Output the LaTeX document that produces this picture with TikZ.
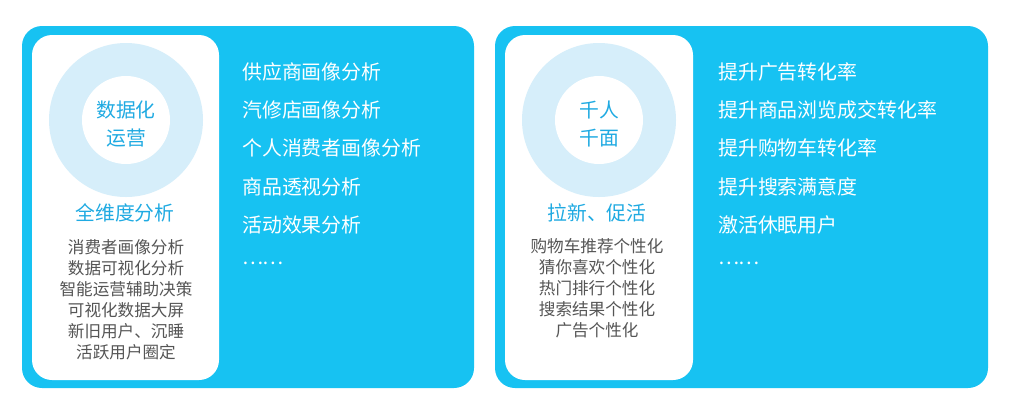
\documentclass[tikz,border=0pt]{standalone}
\usepackage{fontspec}
\setmainfont{Noto Sans CJK SC}
\usetikzlibrary{positioning}
\definecolor{panelblue}{HTML}{17C2F2}
\definecolor{ringblue}{HTML}{D6EEFA}
\definecolor{titleblue}{HTML}{1FAAE2}
\definecolor{listgray}{HTML}{555555}
\newcommand{\moredots}{…\kern-1.2pt…}

\begin{document}
\begin{tikzpicture}[x=1pt,y=-1pt,
  panel/.style={fill=panelblue,rounded corners=20pt},
  card/.style={fill=white,rounded corners=20pt},
  hub/.style={inner sep=0pt,font=\fontsize{19.8}{28}\selectfont,text=titleblue,align=center},
  goal/.style={inner sep=0pt,anchor=west,font=\fontsize{19.9}{24}\selectfont,text=white},
  feat/.style={inner sep=0pt,font=\fontsize{16.6}{21}\selectfont,text=listgray,align=center}]
  \useasboundingbox (0,0) rectangle (1011,408);

  % left panel: 数据化运营
  \fill[panel] (22,26) rectangle (474,388);
  \fill[card] (32,35) rectangle (219,380);
  \fill[ringblue] (126,120) circle (77pt);
  \fill[white] (126,120) circle (44pt);
  \node[hub] (opsHub) at (126,124) {数据化\\运营};
  \node[hub] (opsTitle) at (125,213) {全维度分析};
  \node[feat] (opsFeat) at (126,299.5) {消费者画像分析\\数据可视化分析\\智能运营辅助决策\\可视化数据大屏\\新旧用户、沉睡\\活跃用户圈定};
  \node[goal] (opsA) at (242,72) {供应商画像分析};
  \node[goal] (opsB) at (242,110) {汽修店画像分析};
  \node[goal] (opsC) at (242,148) {个人消费者画像分析};
  \node[goal] (opsD) at (242,187) {商品透视分析};
  \node[goal] (opsE) at (242,225) {活动效果分析};
  \node[goal] (opsF) at (242,263) {\moredots};

  % right panel: 千人千面
  \fill[panel] (495,26) rectangle (988,388);
  \fill[card] (505,35) rectangle (693,380);
  \fill[ringblue] (599,120) circle (77pt);
  \fill[white] (599,120) circle (44pt);
  \node[hub] (recHub) at (599,124) {千人\\千面};
  \node[hub] (recTitle) at (597,213) {拉新、促活};
  \node[feat] (recFeat) at (597,288.5) {购物车推荐个性化\\猜你喜欢个性化\\热门排行个性化\\搜索结果个性化\\广告个性化};
  \node[goal] (recA) at (718,72) {提升广告转化率};
  \node[goal] (recB) at (718,110) {提升商品浏览成交转化率};
  \node[goal] (recC) at (718,148) {提升购物车转化率};
  \node[goal] (recD) at (718,187) {提升搜索满意度};
  \node[goal] (recE) at (718,225) {激活休眠用户};
  \node[goal] (recF) at (718,263) {\moredots};
\end{tikzpicture}
\end{document}
